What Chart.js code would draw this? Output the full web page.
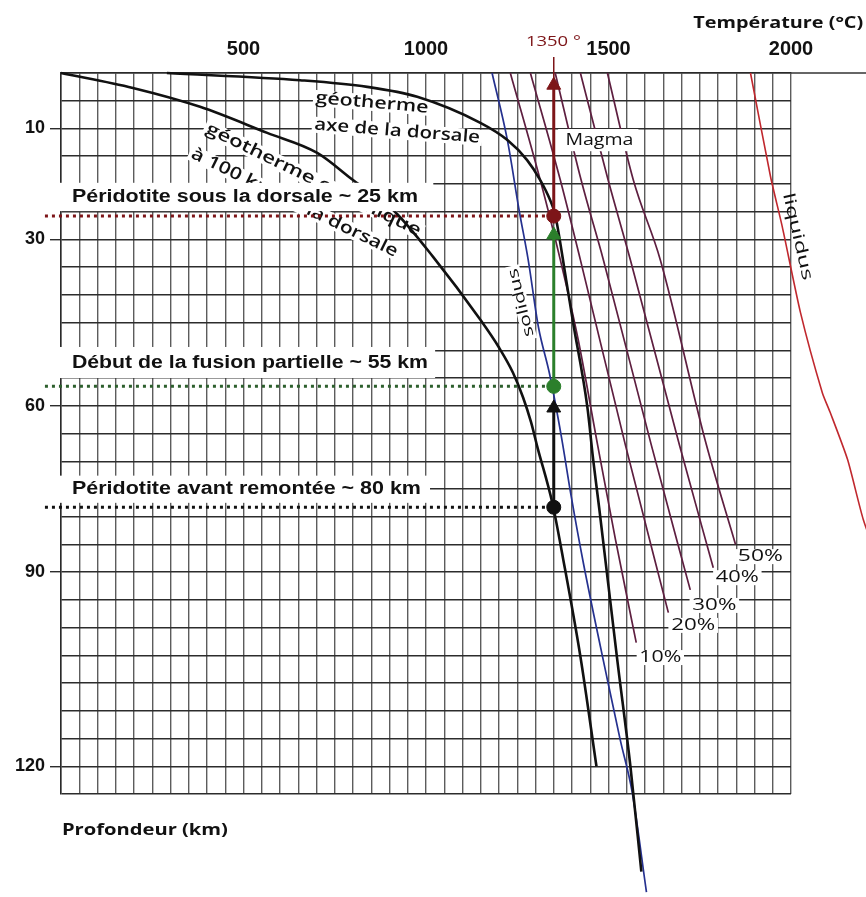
<!DOCTYPE html>
<html><head><meta charset="utf-8">
<script src="https://cdn.jsdelivr.net/npm/chart.js@4/dist/chart.umd.min.js"></script>
<style>html,body{margin:0;padding:0;background:#fff;}#wrap{width:866px;height:897px;position:relative;}</style>
</head><body><div id="wrap"><canvas id="c"></canvas></div>
<script>
// ---------------- DATA (temperature °C, depth km) ----------------
const xTickLabels = [500, 1000, 1500, 2000];
const yTickValues = [10, 30, 60, 90, 125];
const yTickLabels = ['10', '30', '60', '90', '120'];

const geoAxisT = [290, 655, 839, 976, 1149, 1223, 1277, 1313, 1340, 1354, 1384, 1403, 1442, 1458, 1475, 1524, 1560, 1590];
const geoAxisD = [0, 1.3, 2.5, 4.3, 9.0, 12.1, 15.7, 19.3, 22.9, 25.6, 37.3, 45.0, 60.2, 69.7, 78.7, 105.8, 125, 144];

const geo100T = [0, 197, 381, 565, 702, 800, 910, 1020, 1149, 1200, 1238, 1266, 1288, 1305, 1346, 1376, 1423, 1467];
const geo100D = [0, 2.7, 6.1, 10.8, 14.4, 19.3, 24.7, 33.2, 44.5, 49.5, 54.0, 58.5, 63.0, 67.4, 77.5, 87.7, 105.2, 125];

const solidusT = [1181, 1223, 1255, 1280, 1308, 1338, 1371, 1398, 1431, 1497, 1532, 1565, 1604];
const solidusD = [0, 12.1, 24.7, 33.7, 45.8, 54.1, 65.6, 76.4, 88.3, 109.4, 120.2, 129.7, 147.7];

const liquidusT = [1889, 1944, 1976, 2026, 2086, 2108, 2155, 2198, 2250];
const liquidusD = [0, 18.7, 27.7, 43.2, 57.7, 61.3, 69.7, 80.5, 90];

const melt10T = [1231, 1313, 1368, 1417, 1470, 1519, 1576];
const melt10D = [0, 19.3, 33.7, 48.1, 67, 84.1, 102.7];
const melt20T = [1286, 1368, 1423, 1546, 1664];
const melt20D = [0, 19.3, 33.7, 67, 97.3];
const melt30T = [1354, 1425, 1486, 1617, 1724];
const melt30D = [0, 19.3, 33.7, 67, 93.2];
const melt40T = [1423, 1499, 1560, 1694, 1787];
const melt40D = [0, 19.3, 33.7, 67, 89.2];
const melt50T = [1497, 1568, 1642, 1768, 1848];
const melt50D = [0, 19.3, 33.7, 67, 85];

const mantleT = 1350;                   // adiabat temperature
const stageDepths = [25.8, 56.5, 78.3]; // dorsale / début fusion / avant remontée
const dottedStartT = -44;
const arrowHeadD = [2.2, 29.2, 60.4];   // where each arrow head sits
const markerTopD = -2.9;

// ---------------- helpers ----------------
const pts = (T, D) => T.map((t, i) => ({x: t, y: D[i]}));
const line = (data, color, width, extra) => Object.assign({
  data, showLine: true, borderColor: color, backgroundColor: color, borderWidth: width,
  pointRadius: 0, cubicInterpolationMode: 'monotone', clip: false, fill: false
}, extra || {});

const RED = '#7d1518', GREEN = '#2b7f2b', BLACK = '#111111', MAROON = '#5e1f40';

const arrow = (fromD, toD, color) => line(
  [{x: mantleT, y: fromD}, {x: mantleT, y: toD}], color, 3,
  {cubicInterpolationMode: 'default', tension: 0, pointRadius: [0, 8], pointStyle: 'triangle',
   pointBackgroundColor: color, pointBorderColor: color, pointBorderWidth: 1}
);
const straight = {cubicInterpolationMode: 'default', tension: 0};

const datasets = [
  {data: stageDepths.map(d => ({x: mantleT, y: d})), pointRadius: 7,
   pointBackgroundColor: [RED, GREEN, BLACK], pointBorderColor: [RED, GREEN, BLACK], showLine: false, clip: false},
  arrow(stageDepths[0], arrowHeadD[0], RED),
  arrow(stageDepths[1], arrowHeadD[1], GREEN),
  arrow(stageDepths[2], arrowHeadD[2], BLACK),
  line([{x: mantleT, y: 4}, {x: mantleT, y: markerTopD}], RED, 1.5, straight),
  line(pts(geoAxisT, geoAxisD), BLACK, 2.6),
  line(pts(geo100T, geo100D), BLACK, 2.6),
  line(pts(solidusT, solidusD), '#25318f', 1.7),
  line(pts(liquidusT, liquidusD).reverse(), '#c0282e', 1.6, {cubicInterpolationMode: 'default', tension: 0.2}),
  line(pts(melt10T, melt10D), MAROON, 1.7),
  line(pts(melt20T, melt20D), MAROON, 1.7),
  line(pts(melt30T, melt30D), MAROON, 1.7),
  line(pts(melt40T, melt40D), MAROON, 1.7),
  line(pts(melt50T, melt50D), MAROON, 1.7),
  line([{x: dottedStartT, y: stageDepths[0]}, {x: mantleT, y: stageDepths[0]}], RED, 3, Object.assign({borderDash: [3, 4]}, straight)),
  line([{x: dottedStartT, y: stageDepths[1]}, {x: mantleT, y: stageDepths[1]}], '#2d5f2d', 3, Object.assign({borderDash: [3, 4]}, straight)),
  line([{x: dottedStartT, y: stageDepths[2]}, {x: mantleT, y: stageDepths[2]}], BLACK, 3, Object.assign({borderDash: [3, 4]}, straight))
];

// ---------------- annotations (text) ----------------
const SANS = '"Liberation Sans", Arial, sans-serif';
const HUM = '"Open Sans", "Noto Sans", sans-serif';
const textLabels = [
  {text: 'géotherme', t: 852, d: 5.4, rot: 5, font: '600 17px ' + HUM, w: 113, bg: 16, layer: 'under'},
  {text: 'axe de la dorsale', t: 921, d: 10.5, rot: 4.5, font: '600 17px ' + HUM, w: 166, bg: 16, layer: 'under'},
  {text: 'géotherme océanique', t: 400, d: 9.9, rot: 26, align: 'left', font: '600 17px ' + HUM, w: 237, bg: 16, layer: 'under'},
  {text: 'à 100 km de la dorsale', t: 359, d: 14.4, rot: 26, align: 'left', font: '600 17px ' + HUM, w: 228, bg: 16, layer: 'under'},
  {text: 'solidus', t: 1261, d: 41.4, rot: -104, font: '15px ' + HUM, w: 70, bg: 14, layer: 'under'},
  {text: 'liquidus', t: 2018, d: 29.5, rot: 77, font: '16px ' + HUM, w: 89, layer: 'under'},
  {text: '10%', t: 1642, d: 105.4, font: '16px ' + HUM, w: 42, bg: 15, layer: 'under'},
  {text: '20%', t: 1732, d: 99.6, font: '16px ' + HUM, w: 44, bg: 15, layer: 'under'},
  {text: '30%', t: 1790, d: 96.0, font: '16px ' + HUM, w: 44, bg: 15, layer: 'under'},
  {text: '40%', t: 1853, d: 91.0, font: '16px ' + HUM, w: 43, bg: 15, layer: 'under'},
  {text: '50%', t: 1916, d: 87.2, font: '16px ' + HUM, w: 45, bg: 15, layer: 'under'},
  {text: 'Péridotite sous la dorsale ~ 25 km', t: 30, d: 22.3, align: 'left', font: 'bold 18px ' + SANS, w: 346},
  {text: 'Début de la fusion partielle ~ 55 km', t: 30, d: 52.3, align: 'left', font: 'bold 18px ' + SANS, w: 356},
  {text: 'Péridotite avant remontée ~ 80 km', t: 30, d: 75.1, align: 'left', font: 'bold 18px ' + SANS, w: 349},
  {text: 'Magma', t: 1475, d: 12.1, font: '16px ' + HUM, w: 68},
  {text: 'Température (°C)', t: 1965, d: -9.0, font: 'bold 16px ' + HUM, w: 170},
  {text: '1350 °', t: 1349, d: -5.6, font: '15px ' + HUM, w: 55, color: RED},
  {text: 'Profondeur (km)', t: 230, d: 136.6, font: 'bold 16px ' + HUM, w: 166}
];
const maskBoxes = [
  {t0: -8, t1: 1020, d0: 19.8, d1: 24.9},
  {t0: -8, t1: 1025, d0: 49.4, d1: 55.0},
  {t0: -8, t1: 1011, d0: 72.6, d1: 77.5},
  {t0: 1362, t1: 1582, d0: 10.1, d1: 14.1}
];

function drawText(chart, L) {
  const ctx = chart.ctx, xs = chart.scales.x, ys = chart.scales.y;
  const px = xs.getPixelForValue(L.t), py = ys.getPixelForValue(L.d);
  ctx.save();
  ctx.translate(px, py);
  if (L.rot) ctx.rotate(L.rot * Math.PI / 180);
  ctx.font = L.font;
  const m = ctx.measureText(L.text).width;
  const sx = L.w ? L.w / m : 1;
  ctx.scale(sx, 1);
  const align = L.align || 'center';
  ctx.textAlign = align;
  ctx.textBaseline = 'middle';
  if (L.bg) {
    const x0 = align === 'left' ? 0 : -m / 2;
    ctx.fillStyle = '#ffffff';
    ctx.fillRect(x0 - 2, -L.bg / 2, m + 4, L.bg);
  }
  ctx.fillStyle = L.color || '#111111';
  ctx.fillText(L.text, 0, 0);
  ctx.restore();
}

const annotationPlugin = {
  id: 'annotations',
  beforeDatasetsDraw(chart) {
    textLabels.filter(L => L.layer === 'under').forEach(L => drawText(chart, L));
  },
  afterDatasetsDraw(chart) {
    const ctx = chart.ctx, xs = chart.scales.x, ys = chart.scales.y;
    ctx.save();
    ctx.fillStyle = '#ffffff';
    maskBoxes.forEach(b => {
      const x0 = xs.getPixelForValue(b.t0), x1 = xs.getPixelForValue(b.t1);
      const y0 = ys.getPixelForValue(b.d0), y1 = ys.getPixelForValue(b.d1);
      ctx.fillRect(x0, y0, x1 - x0, y1 - y0);
    });
    ctx.strokeStyle = '#333';
    ctx.lineWidth = 1.5;
    ctx.beginPath();
    ctx.moveTo(chart.chartArea.right, chart.chartArea.top);
    ctx.lineTo(chart.width, chart.chartArea.top);
    ctx.stroke();
    ctx.restore();
    textLabels.filter(L => L.layer !== 'under').forEach(L => drawText(chart, L));
  }
};

new Chart(document.getElementById('c'), {
  type: 'scatter',
  data: {datasets},
  options: {
    responsive: true,
    maintainAspectRatio: false,
    animation: false,
    layout: {padding: {left: 0, top: 0, right: 75, bottom: 103}},
    plugins: {legend: {display: false}, tooltip: {enabled: false}, title: {display: false}},
    scales: {
      x: {
        type: 'linear', position: 'top', min: 0, max: 2000,
        afterFit: s => { s.height = 73; },
        ticks: {
          stepSize: 50, autoSkip: false, maxRotation: 0, minRotation: 0, padding: 12,
          color: '#111', font: {family: 'Liberation Sans', size: 20, weight: 'bold'},
          callback: v => xTickLabels.includes(v) ? String(v) : ''
        },
        grid: {color: '#5c5c5c', lineWidth: 1.4, drawTicks: false},
        border: {display: true, color: '#2a2a2a', width: 1.5}
      },
      y: {
        type: 'linear', reverse: true, min: 0, max: 130,
        afterFit: s => { s.width = 61; },
        ticks: {
          stepSize: 5, autoSkip: false, padding: 5,
          color: '#111', font: {family: 'Liberation Sans', size: 18, weight: 'bold'},
          callback: v => { const i = yTickValues.indexOf(v); return i >= 0 ? yTickLabels[i] : ''; }
        },
        grid: {
          color: '#2c2c2c', lineWidth: 1.4, tickLength: 11,
          tickColor: c => (c.tick && yTickValues.includes(c.tick.value)) ? '#2c2c2c' : 'rgba(0,0,0,0)'
        },
        border: {display: true, color: '#2a2a2a', width: 1.5}
      }
    }
  },
  plugins: [annotationPlugin]
});
</script>
</body></html>
